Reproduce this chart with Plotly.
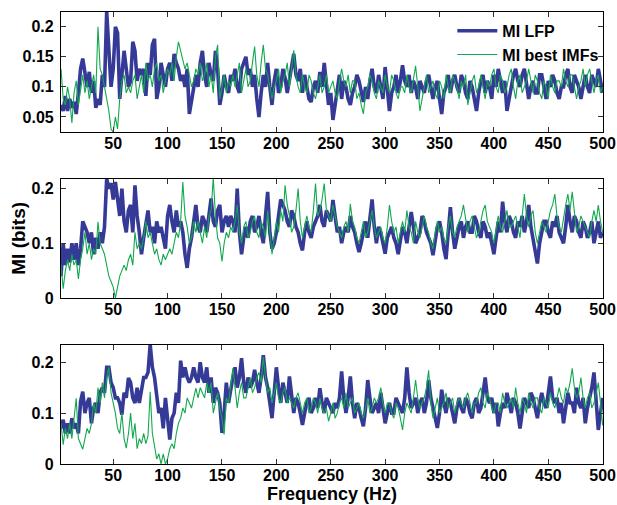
import plotly.graph_objects as go

# Frequency grid (Hz)
freq = list(range(2, 501, 2))

# ---------------- Panel 1 ----------------
p1_lfp = [
    0.07, 0.06, 0.085, 0.06, 0.08, 0.065, 0.075, 0.055, 0.09, 0.13,
    0.147, 0.12, 0.10, 0.125, 0.09, 0.11, 0.065, 0.08, 0.07, 0.12,
    0.10, 0.225, 0.15, 0.10, 0.13, 0.20, 0.19, 0.08, 0.12, 0.16,
    0.13, 0.10, 0.11, 0.175, 0.16, 0.11, 0.13, 0.12, 0.13, 0.085,
    0.14, 0.12, 0.17, 0.18, 0.08, 0.10, 0.14, 0.12, 0.10, 0.13,
    0.14, 0.11, 0.155, 0.14, 0.13, 0.11, 0.12, 0.10, 0.13, 0.055,
    0.08, 0.10, 0.12, 0.10, 0.14, 0.16, 0.12, 0.10, 0.14, 0.12,
    0.11, 0.16, 0.13, 0.07, 0.09, 0.12, 0.10, 0.09, 0.12, 0.11,
    0.13,
    0.10, 0.09, 0.13, 0.14, 0.15, 0.12, 0.13, 0.10, 0.12, 0.08,
    0.05, 0.09, 0.12, 0.10, 0.14, 0.10, 0.07, 0.11, 0.13, 0.09,
    0.10, 0.13, 0.115, 0.09, 0.11, 0.13, 0.155, 0.12, 0.11, 0.13,
    0.09, 0.12, 0.10, 0.08, 0.075, 0.10, 0.11, 0.09, 0.125, 0.10,
    0.14, 0.11, 0.07, 0.09, 0.045, 0.07, 0.10, 0.12, 0.08, 0.11,
    0.10, 0.08, 0.07, 0.09, 0.10, 0.12, 0.11, 0.09, 0.075, 0.10,
    0.08, 0.11, 0.13, 0.10, 0.09, 0.12, 0.10, 0.08, 0.133, 0.10,
    0.06, 0.09, 0.10, 0.12, 0.09, 0.11, 0.136, 0.11, 0.10, 0.12,
    0.09, 0.11, 0.10, 0.08, 0.11, 0.10, 0.09, 0.11, 0.12, 0.10,
    0.08, 0.10, 0.11, 0.08, 0.055, 0.09, 0.10, 0.12, 0.09, 0.11,
    0.12, 0.10, 0.09, 0.12, 0.11, 0.09, 0.08, 0.11, 0.10, 0.08,
    0.06, 0.09, 0.11, 0.12, 0.09, 0.11, 0.10, 0.08, 0.12, 0.10,
    0.13, 0.11, 0.09, 0.11, 0.06, 0.08, 0.10, 0.12, 0.13, 0.11,
    0.10, 0.12, 0.13, 0.10, 0.08, 0.10, 0.11, 0.09, 0.09, 0.12,
    0.12, 0.10, 0.08, 0.11, 0.10, 0.12, 0.11, 0.09, 0.08, 0.10,
    0.10, 0.12, 0.13, 0.10, 0.09, 0.12, 0.11, 0.10, 0.08, 0.10,
    0.12, 0.10, 0.09, 0.12, 0.11, 0.10, 0.13, 0.11, 0.09,
]
p1_imf = [
    0.13, 0.08, 0.07, 0.10, 0.08, 0.04, 0.09, 0.11, 0.07, 0.10,
    0.12, 0.09, 0.11, 0.08, 0.10, 0.12, 0.09, 0.20, 0.13, 0.12,
    0.10, 0.08, 0.06, 0.03, 0.025, 0.05, 0.03, 0.08, 0.11, 0.12,
    0.09, 0.10, 0.09, 0.11, 0.12, 0.08, 0.10, 0.12, 0.09, 0.14,
    0.11, 0.12, 0.10, 0.13, 0.14, 0.11, 0.12, 0.09, 0.11, 0.13,
    0.12, 0.14, 0.11, 0.15, 0.175, 0.16, 0.15, 0.13, 0.14, 0.12,
    0.10, 0.11, 0.13, 0.12, 0.14, 0.11, 0.12, 0.14, 0.10, 0.12,
    0.09, 0.15, 0.17, 0.08, 0.10, 0.12, 0.09, 0.11, 0.10, 0.12,
    0.10,
    0.12, 0.14, 0.09, 0.11, 0.13, 0.10, 0.11, 0.14, 0.167, 0.12,
    0.10, 0.14, 0.17, 0.13, 0.12, 0.10, 0.08, 0.10, 0.11, 0.13,
    0.09, 0.11, 0.12, 0.14, 0.10, 0.13, 0.161, 0.12, 0.10, 0.09,
    0.12, 0.10, 0.09, 0.12, 0.11, 0.09, 0.08, 0.10, 0.12, 0.09,
    0.10, 0.12, 0.09, 0.10, 0.11, 0.09, 0.08, 0.11, 0.13, 0.11,
    0.10, 0.12, 0.09, 0.11, 0.11, 0.08, 0.09, 0.07, 0.055, 0.09,
    0.10, 0.12, 0.11, 0.09, 0.08, 0.11, 0.10, 0.09, 0.12, 0.10,
    0.09, 0.12, 0.11, 0.09, 0.08, 0.10, 0.10, 0.09, 0.12, 0.10,
    0.09, 0.11, 0.135, 0.10, 0.06, 0.08, 0.10, 0.12, 0.09, 0.10,
    0.11, 0.09, 0.08, 0.11, 0.10, 0.08, 0.12, 0.10, 0.09, 0.12,
    0.11, 0.10, 0.08, 0.11, 0.10, 0.12, 0.07, 0.09, 0.11, 0.12,
    0.09, 0.10, 0.12, 0.10, 0.08, 0.11, 0.10, 0.12, 0.13, 0.10,
    0.09, 0.12, 0.11, 0.09, 0.10, 0.12, 0.13, 0.10, 0.08, 0.11,
    0.12, 0.09, 0.10, 0.11, 0.13, 0.11, 0.09, 0.12, 0.11, 0.09,
    0.08, 0.11, 0.10, 0.08, 0.12, 0.10, 0.09, 0.11, 0.11, 0.10,
    0.13, 0.11, 0.10, 0.12, 0.12, 0.10, 0.08, 0.10, 0.11, 0.13,
    0.10, 0.12, 0.13, 0.11, 0.09, 0.11, 0.12, 0.09, 0.10,
]

# ---------------- Panel 2 ----------------
p2_lfp = [
    0.04, 0.10, 0.06, 0.09, 0.065, 0.10, 0.07, 0.10, 0.06, 0.09,
    0.14, 0.13, 0.12, 0.10, 0.12, 0.08, 0.11, 0.09, 0.12, 0.10,
    0.13, 0.218, 0.20, 0.21, 0.18, 0.212, 0.18, 0.15, 0.20, 0.14,
    0.12, 0.16, 0.17, 0.12, 0.206, 0.15, 0.12, 0.08, 0.11, 0.14,
    0.16, 0.12, 0.13, 0.10, 0.14, 0.12, 0.13, 0.11, 0.09, 0.15,
    0.17, 0.14, 0.12, 0.16, 0.13, 0.14, 0.12, 0.08, 0.055, 0.09,
    0.11, 0.14, 0.17, 0.13, 0.12, 0.15, 0.14, 0.12, 0.15, 0.182,
    0.14, 0.13, 0.16, 0.17, 0.12, 0.14, 0.15, 0.13, 0.15, 0.14,
    0.12,
    0.20, 0.12, 0.08, 0.11, 0.13, 0.11, 0.14, 0.15, 0.12, 0.13,
    0.15, 0.12, 0.10, 0.15, 0.194, 0.12, 0.09, 0.10, 0.12, 0.15,
    0.18, 0.17, 0.16, 0.14, 0.13, 0.16, 0.15, 0.13, 0.12, 0.10,
    0.087, 0.12, 0.14, 0.12, 0.11, 0.13, 0.14, 0.15, 0.17, 0.14,
    0.13, 0.16, 0.15, 0.14, 0.179, 0.15, 0.12, 0.13, 0.10, 0.12,
    0.13, 0.12, 0.15, 0.13, 0.12, 0.10, 0.084, 0.10, 0.12, 0.14,
    0.11, 0.14, 0.18, 0.13, 0.10, 0.13, 0.12, 0.10, 0.081, 0.11,
    0.12, 0.13, 0.11, 0.10, 0.08, 0.11, 0.13, 0.12, 0.10, 0.13,
    0.157, 0.13, 0.10, 0.11, 0.12, 0.15, 0.14, 0.12, 0.11, 0.10,
    0.078, 0.11, 0.13, 0.14, 0.12, 0.09, 0.071, 0.12, 0.166, 0.12,
    0.09, 0.11, 0.13, 0.14, 0.11, 0.13, 0.14, 0.12, 0.12, 0.15,
    0.14, 0.12, 0.11, 0.14, 0.13, 0.11, 0.12, 0.10, 0.08, 0.11,
    0.14, 0.12, 0.176, 0.14, 0.12, 0.15, 0.14, 0.12, 0.11, 0.14,
    0.13, 0.15, 0.12, 0.14, 0.17, 0.13, 0.11, 0.09, 0.063, 0.10,
    0.12, 0.14, 0.14, 0.12, 0.11, 0.14, 0.13, 0.15, 0.12, 0.11,
    0.10, 0.13, 0.17, 0.14, 0.12, 0.15, 0.14, 0.12, 0.11, 0.14,
    0.13, 0.11, 0.12, 0.14, 0.10, 0.12, 0.14, 0.11, 0.12,
]
p2_imf = [
    0.06, 0.017, 0.05, 0.07, 0.05, 0.08, 0.06, 0.07, 0.035, 0.07,
    0.09, 0.12, 0.08, 0.10, 0.07, 0.09, 0.08, 0.139, 0.10, 0.09,
    0.08, 0.06, 0.04, 0.03, 0.02, 0.0, 0.02, 0.04, 0.05, 0.06,
    0.05, 0.07, 0.08, 0.06, 0.12, 0.09, 0.10, 0.09, 0.11, 0.14,
    0.11, 0.12, 0.10, 0.08, 0.09, 0.07, 0.06, 0.08, 0.07, 0.08,
    0.09, 0.08, 0.10, 0.12, 0.11, 0.14, 0.212, 0.15, 0.13, 0.10,
    0.11, 0.14, 0.12, 0.14, 0.12, 0.10, 0.13, 0.11, 0.15, 0.16,
    0.22, 0.15, 0.11, 0.10, 0.067, 0.10, 0.12, 0.11, 0.13, 0.12,
    0.14,
    0.17, 0.12, 0.10, 0.13, 0.14, 0.11, 0.12, 0.14, 0.15, 0.12,
    0.11, 0.14, 0.13, 0.11, 0.16, 0.12, 0.08, 0.11, 0.14, 0.12,
    0.16, 0.14, 0.206, 0.17, 0.15, 0.12, 0.13, 0.16, 0.20, 0.14,
    0.11, 0.13, 0.15, 0.13, 0.12, 0.16, 0.209, 0.15, 0.16, 0.18,
    0.209, 0.16, 0.15, 0.14, 0.17, 0.15, 0.13, 0.12, 0.11, 0.13,
    0.14, 0.12, 0.172, 0.14, 0.13, 0.11, 0.10, 0.12, 0.14, 0.11,
    0.12, 0.14, 0.16, 0.13, 0.11, 0.12, 0.13, 0.11, 0.10, 0.13,
    0.17, 0.14, 0.12, 0.13, 0.10, 0.12, 0.14, 0.12, 0.16, 0.13,
    0.12, 0.10, 0.14, 0.12, 0.11, 0.13, 0.15, 0.13, 0.12, 0.10,
    0.09, 0.12, 0.14, 0.12, 0.13, 0.11, 0.10, 0.13, 0.15, 0.12,
    0.11, 0.13, 0.14, 0.15, 0.17, 0.14, 0.12, 0.14, 0.15, 0.13,
    0.11, 0.12, 0.14, 0.16, 0.17, 0.14, 0.13, 0.12, 0.10, 0.13,
    0.15, 0.13, 0.12, 0.14, 0.16, 0.13, 0.13, 0.14, 0.15, 0.13,
    0.11, 0.15, 0.19, 0.15, 0.13, 0.15, 0.16, 0.12, 0.10, 0.12,
    0.14, 0.13, 0.12, 0.14, 0.16, 0.17, 0.19, 0.15, 0.13, 0.12,
    0.15, 0.17, 0.19, 0.16, 0.194, 0.15, 0.12, 0.13, 0.15, 0.14,
    0.13, 0.12, 0.11, 0.14, 0.16, 0.14, 0.17, 0.14, 0.12,
]

# ---------------- Panel 3 ----------------
p3_lfp = [
    0.07, 0.087, 0.06, 0.08, 0.06, 0.09, 0.07, 0.08, 0.06, 0.123,
    0.142, 0.10, 0.12, 0.13, 0.08, 0.11, 0.12, 0.10, 0.14, 0.15,
    0.14, 0.19, 0.19, 0.16, 0.15, 0.13, 0.13, 0.12, 0.097, 0.14,
    0.13, 0.169, 0.16, 0.13, 0.12, 0.15, 0.12, 0.15, 0.17, 0.17,
    0.18, 0.235, 0.19, 0.17, 0.13, 0.10, 0.11, 0.07, 0.13, 0.08,
    0.048, 0.09, 0.10, 0.14, 0.12, 0.203, 0.17, 0.19, 0.17, 0.16,
    0.17, 0.19, 0.17, 0.16, 0.20, 0.17, 0.16, 0.19, 0.14, 0.17,
    0.12, 0.15, 0.14, 0.12, 0.061, 0.10, 0.16, 0.12, 0.15, 0.17,
    0.19,
    0.15, 0.17, 0.208, 0.16, 0.14, 0.17, 0.15, 0.16, 0.185, 0.16,
    0.14, 0.17, 0.214, 0.17, 0.15, 0.12, 0.09, 0.14, 0.19, 0.15,
    0.12, 0.16, 0.14, 0.12, 0.172, 0.13, 0.10, 0.13, 0.12, 0.10,
    0.077, 0.10, 0.12, 0.13, 0.10, 0.11, 0.13, 0.11, 0.149, 0.12,
    0.10, 0.13, 0.12, 0.11, 0.10, 0.12, 0.11, 0.13, 0.182, 0.13,
    0.10, 0.13, 0.172, 0.12, 0.09, 0.12, 0.11, 0.09, 0.074, 0.11,
    0.165, 0.13, 0.10, 0.11, 0.12, 0.10, 0.14, 0.11, 0.08, 0.10,
    0.12, 0.10, 0.10, 0.13, 0.12, 0.11, 0.10, 0.13, 0.19, 0.14,
    0.11, 0.12, 0.13, 0.10, 0.12, 0.13, 0.10, 0.12, 0.165, 0.13,
    0.11, 0.09, 0.071, 0.10, 0.146, 0.12, 0.10, 0.13, 0.12, 0.10,
    0.08, 0.11, 0.13, 0.11, 0.10, 0.13, 0.12, 0.10, 0.09, 0.12,
    0.13, 0.10, 0.11, 0.14, 0.17, 0.13, 0.12, 0.13, 0.10, 0.12,
    0.074, 0.10, 0.12, 0.11, 0.14, 0.12, 0.10, 0.13, 0.12, 0.10,
    0.07, 0.10, 0.13, 0.12, 0.11, 0.14, 0.13, 0.11, 0.09, 0.12,
    0.14, 0.12, 0.11, 0.14, 0.172, 0.13, 0.12, 0.13, 0.10, 0.12,
    0.08, 0.11, 0.14, 0.12, 0.12, 0.10, 0.15, 0.12, 0.11, 0.13,
    0.08, 0.11, 0.13, 0.15, 0.18, 0.12, 0.067, 0.10, 0.13,
]
p3_imf = [
    0.08, 0.038, 0.07, 0.05, 0.08, 0.05, 0.09, 0.129, 0.05, 0.04,
    0.029, 0.05, 0.07, 0.06, 0.08, 0.12, 0.10, 0.15, 0.12, 0.16,
    0.13, 0.17, 0.19, 0.14, 0.12, 0.10, 0.07, 0.06, 0.10, 0.05,
    0.031, 0.06, 0.10, 0.05, 0.08, 0.03, 0.05, 0.04, 0.06, 0.04,
    0.055, 0.142, 0.06, 0.03, 0.01, 0.02, 0.0, 0.02, 0.0, 0.01,
    0.03, 0.04, 0.03, 0.06, 0.08, 0.09, 0.11, 0.10, 0.13, 0.12,
    0.11, 0.13, 0.149, 0.13, 0.15, 0.14, 0.13, 0.16, 0.14, 0.16,
    0.10, 0.12, 0.14, 0.11, 0.09, 0.058, 0.13, 0.12, 0.16, 0.188,
    0.15,
    0.11, 0.14, 0.16, 0.13, 0.13, 0.15, 0.17, 0.14, 0.15, 0.17,
    0.18, 0.16, 0.21, 0.17, 0.14, 0.15, 0.12, 0.14, 0.16, 0.13,
    0.12, 0.14, 0.15, 0.12, 0.13, 0.12, 0.11, 0.13, 0.14, 0.12,
    0.10, 0.12, 0.13, 0.10, 0.11, 0.13, 0.12, 0.10, 0.13, 0.11,
    0.10, 0.11, 0.084, 0.10, 0.12, 0.09, 0.10, 0.12, 0.13, 0.11,
    0.14, 0.11, 0.12, 0.13, 0.10, 0.11, 0.12, 0.10, 0.09, 0.11,
    0.13, 0.10, 0.11, 0.13, 0.12, 0.13, 0.15, 0.12, 0.10, 0.12,
    0.12, 0.10, 0.09, 0.12, 0.11, 0.09, 0.067, 0.10, 0.12, 0.11,
    0.10, 0.13, 0.165, 0.13, 0.11, 0.12, 0.13, 0.15, 0.184, 0.12,
    0.09, 0.11, 0.13, 0.10, 0.11, 0.12, 0.14, 0.11, 0.12, 0.13,
    0.10, 0.12, 0.13, 0.12, 0.11, 0.13, 0.14, 0.12, 0.10, 0.12,
    0.12, 0.14, 0.15, 0.12, 0.11, 0.14, 0.13, 0.11, 0.10, 0.12,
    0.12, 0.10, 0.14, 0.12, 0.11, 0.12, 0.13, 0.11, 0.15, 0.12,
    0.10, 0.13, 0.12, 0.10, 0.14, 0.12, 0.11, 0.13, 0.13, 0.11,
    0.10, 0.13, 0.12, 0.11, 0.14, 0.12, 0.11, 0.13, 0.15, 0.13,
    0.12, 0.15, 0.14, 0.16, 0.188, 0.15, 0.13, 0.14, 0.17, 0.13,
    0.11, 0.13, 0.14, 0.11, 0.12, 0.14, 0.16, 0.12, 0.076,
]

for arr in (p1_lfp, p1_imf, p2_lfp, p2_imf, p3_lfp, p3_imf):
    assert len(arr) == len(freq), (len(arr), len(freq))

# Tick labels
x_tickvals = [50, 100, 150, 200, 250, 300, 350, 400, 450, 500]
x_ticktext = ["50", "100", "150", "200", "250", "300", "350", "400", "450", "500"]
p1_tickvals = [0.05, 0.1, 0.15, 0.2]
p1_ticktext = ["0.05", "0.1", "0.15", "0.2"]
p23_tickvals = [0, 0.1, 0.2]
p23_ticktext = ["0", "0.1", "0.2"]

series_names = ["MI LFP", "MI best IMFs"]

BLUE = "#353a97"
GREEN = "#12a84f"
FONT = "Liberation Sans"

fig = go.Figure()
panels = [(p1_lfp, p1_imf), (p2_lfp, p2_imf), (p3_lfp, p3_imf)]
for i, (lfp, imf) in enumerate(panels, start=1):
    xa = "x" if i == 1 else f"x{i}"
    ya = "y" if i == 1 else f"y{i}"
    fig.add_trace(go.Scatter(
        x=freq, y=lfp, mode="lines", name=series_names[0],
        line=dict(color=BLUE, width=3.6), showlegend=(i == 1),
        legendgroup="lfp", xaxis=xa, yaxis=ya, hoverinfo="skip"))
    fig.add_trace(go.Scatter(
        x=freq, y=imf, mode="lines", name=series_names[1],
        line=dict(color=GREEN, width=1.1), showlegend=(i == 1),
        legendgroup="imf", xaxis=xa, yaxis=ya, hoverinfo="skip"))

tickfont = dict(family=FONT, size=16, color="black", weight="bold")
common = dict(showline=True, linecolor="black", linewidth=1.2, mirror="ticks",
              ticks="inside", ticklen=5, tickwidth=1, tickcolor="#333333",
              showgrid=False, zeroline=False, tickfont=tickfont, automargin=False)

xcommon = dict(common, range=[2, 500.3], tickvals=x_tickvals, ticktext=x_ticktext,
               ticklabelstandoff=-3)

fig.update_layout(
    width=617, height=505,
    margin=dict(l=61, r=14, t=12, b=41),
    paper_bgcolor="white", plot_bgcolor="white",
    font=dict(family=FONT, color="black", weight="bold"),
    hovermode=False,
    xaxis=dict(xcommon, domain=[0, 1], anchor="y"),
    xaxis2=dict(xcommon, domain=[0, 1], anchor="y2"),
    xaxis3=dict(xcommon, domain=[0, 1], anchor="y3",
                title=dict(text="Frequency (Hz)", standoff=2,
                           font=dict(family=FONT, size=18, color="black", weight="bold"))),
    yaxis=dict(common, domain=[0.7345, 1], anchor="x", range=[0.025, 0.2245],
               tickvals=p1_tickvals, ticktext=p1_ticktext, ticklabelstandoff=3),
    yaxis2=dict(common, domain=[0.3673, 0.6312], anchor="x2", range=[0, 0.218],
                tickvals=p23_tickvals, ticktext=p23_ticktext, ticklabelstandoff=3,
                title=dict(text="MI (bits)", standoff=0,
                           font=dict(family=FONT, size=19, color="black", weight="bold"))),
    yaxis3=dict(common, domain=[0, 0.264], anchor="x3", range=[0, 0.2345],
                tickvals=p23_tickvals, ticktext=p23_ticktext, ticklabelstandoff=3),
    legend=dict(x=0.722, y=0.996, xanchor="left", yanchor="top",
                bgcolor="rgba(0,0,0,0)", borderwidth=0, traceorder="grouped",
                tracegroupgap=0, itemwidth=40,
                font=dict(family=FONT, size=16, color="black", weight="bold")),
)

fig.write_html("out.html")
